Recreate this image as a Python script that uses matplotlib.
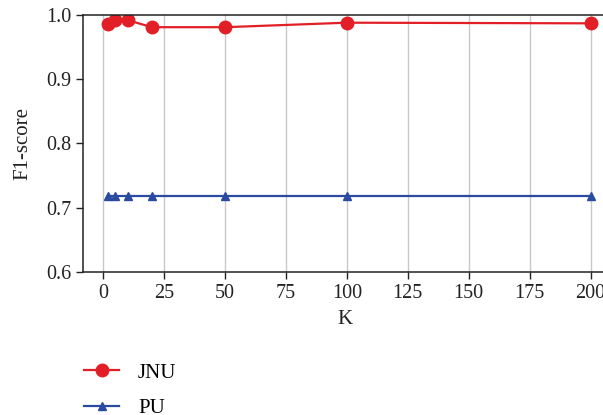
import numpy as np
import matplotlib
matplotlib.use("Agg")
import matplotlib.pyplot as plt
from matplotlib.lines import Line2D

# values
k_values = [2, 5, 10, 20, 50, 100, 200]
jnu_f1 = [0.986, 0.992, 0.992, 0.981, 0.981, 0.988, 0.987]
pu_f1 = [0.718, 0.718, 0.718, 0.718, 0.718, 0.718, 0.718]
x_ticks = [0, 25, 50, 75, 100, 125, 150, 175, 200]
y_ticks = [0.6, 0.7, 0.8, 0.9, 1.0]

plt.rcParams['font.family'] = ['Liberation Serif', 'DejaVu Serif']

fig = plt.figure(figsize=(6.03, 4.15), dpi=100)
ax = fig.add_axes([0.1376, 0.3446, 0.87, 0.6193])

red = '#e21f26'
blue = '#2b4ba0'
ax.plot(k_values, jnu_f1, '-', color=red, lw=1.6, marker='o', ms=9, label='JNU')
ax.plot(k_values, pu_f1, '-', color=blue, lw=1.6, marker='^', ms=6, label='PU')

ax.set_xlim(-8.3, 207)
ax.set_ylim(0.6, 1.0)
ax.set_xticks(x_ticks)
ax.set_yticks(y_ticks)
ax.set_yticklabels([f'{v:.1f}' for v in y_ticks])
ax.xaxis.grid(True, color='#c8c8c8', lw=1)
ax.set_axisbelow(True)
ax.spines['right'].set_visible(False)
for s in ['left', 'bottom', 'top']:
    ax.spines[s].set_color('#222222')
    ax.spines[s].set_linewidth(1.1)
ax.tick_params(axis='both', direction='out', length=5, width=1, labelsize=14.5, colors='#222222')
ax.set_xlabel('K', fontsize=15, color='#222222', labelpad=5)
ax.set_ylabel('F1-score', fontsize=15, color='#222222', labelpad=10)

handles = [Line2D([], [], color=red, lw=1.6, marker='o', ms=9),
           Line2D([], [], color=blue, lw=1.6, marker='^', ms=6)]
fig.legend(handles, ['JNU', 'PU'], loc='upper left', bbox_to_anchor=(0.108, 0.17),
           frameon=False, fontsize=15, handlelength=1.7, handletextpad=0.9,
           labelspacing=0.75)

fig.savefig('out.png', dpi=100)
